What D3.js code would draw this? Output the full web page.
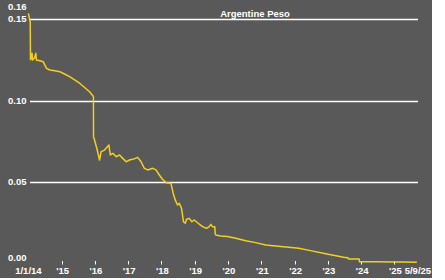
<!DOCTYPE html>
<html><head><meta charset="utf-8">
<script src="https://cdn.jsdelivr.net/npm/d3@7"></script>
<style>html,body{margin:0;padding:0;background:#fff;}svg{display:block;}</style>
</head><body>
<script>
const title = "Argentine Peso";
const dates = ["2014-01-01","2014-01-21","2014-01-24","2014-02-05","2014-02-10","2014-02-15","2014-03-10","2014-03-24","2014-03-30","2014-05-06","2014-06-12","2014-07-19","2014-08-24","2014-10-18","2014-12-12","2015-01-16","2015-03-30","2015-07-17","2015-11-03","2015-12-16",
"2015-12-17","2015-12-28","2016-01-22","2016-02-21","2016-03-10","2016-04-16","2016-06-03","2016-06-18","2016-07-16","2016-08-22","2016-09-27","2016-11-02","2016-12-09","2017-01-14","2017-02-19","2017-04-15","2017-05-22","2017-06-27","2017-08-03","2017-09-27","2017-11-02","2017-12-08",
"2018-01-14","2018-02-20","2018-04-15","2018-05-10","2018-06-01","2018-06-26","2018-07-15","2018-08-09","2018-08-31","2018-09-19","2018-10-03","2018-11-01","2018-12-01","2018-12-26","2019-02-01","2019-03-28","2019-05-10","2019-06-09","2019-06-27","2019-07-14","2019-08-09","2019-08-13","2019-08-20","2019-10-13","2019-12-25",
"2020-03-27","2020-07-14","2020-10-31","2021-02-18","2021-06-07","2021-10-30","2022-02-17","2022-06-24","2022-12-22","2023-06-23","2023-08-11","2023-08-16","2023-11-14","2023-12-12","2023-12-14","2024-06-15","2024-12-15","2025-04-15","2025-09-05"];
const values = [0.1535,0.1480,0.1250,0.1270,0.1290,0.1248,0.1262,0.1290,0.1248,0.1244,0.1238,0.1197,0.1187,0.1183,0.1177,0.1167,0.1146,0.1106,0.1054,0.1025,
0.0778,0.0758,0.0707,0.0635,0.0686,0.0696,0.0727,0.0666,0.0676,0.0655,0.0666,0.0645,0.0624,0.0635,0.0639,0.0651,0.0624,0.0584,0.0574,0.0584,0.0574,0.0543,
0.0515,0.0496,0.0492,0.0430,0.0390,0.0359,0.0369,0.0339,0.0256,0.0247,0.0271,0.0277,0.0256,0.0267,0.0250,0.0226,0.0216,0.0226,0.0240,0.0226,0.0226,0.0185,0.0175,0.0169,0.0165,
0.0155,0.0140,0.0128,0.0113,0.0107,0.0099,0.0094,0.0079,0.0058,0.0038,0.0035,0.0028,0.0027,0.0027,0.0011,0.0011,0.00097,0.00087,0.00073];
const yTicks = [0.00,0.05,0.10,0.15,0.16];
const gridValues = [0.05,0.10,0.15];
const yearTicks = ["2015","2016","2017","2018","2019","2020","2021","2022","2023","2024","2025"];
const yearLabels = ["'15","'16","'17","'18","'19","'20","'21","'22","'23","'24","'25"];
const startLabel = "1/1/14", endLabel = "5/9/25";

const W = 445, H = 280;
const svg = d3.select("body").append("svg").attr("width", W).attr("height", H);
svg.append("rect").attr("x",0).attr("y",0).attr("width",432).attr("height",278).attr("fill","#595959");

const parse = d3.utcParse("%Y-%m-%d");
const data = dates.map((d,i)=>({date:parse(d), value:values[i]}));
const x = d3.scaleUtc().domain([parse("2014-01-01"), parse("2025-09-05")]).range([28.4, 416.9]);
const y = d3.scaleLinear().domain([0,0.16]).range([263.5, 2.7]);

const font = "'Liberation Sans', Arial, sans-serif";

// gridlines
svg.append("g").selectAll("line").data(gridValues).join("line")
  .attr("x1",30).attr("x2",418)
  .attr("y1",d=>Math.round(y(d))+0.5).attr("y2",d=>Math.round(y(d))+0.5)
  .attr("stroke","#fff").attr("stroke-width",1.3);

// y labels
svg.append("g").selectAll("text").data(yTicks).join("text")
  .attr("x",8).attr("y",d=>Math.max(7, Math.min(258, y(d))))
  .attr("dy","0.35em")
  .attr("fill","#fff").attr("font-family",font).attr("font-weight","bold").attr("font-size","9.5px")
  .text(d=>d3.format(".2f")(d));

// x ticks
const yt = yearTicks.map(s=>parse(s+"-01-01"));
svg.append("g").selectAll("line").data(yt).join("line")
  .attr("x1",d=>Math.round(x(d))+0.5).attr("x2",d=>Math.round(x(d))+0.5)
  .attr("y1",261).attr("y2",264.5).attr("stroke","#fff").attr("stroke-width",1);
svg.append("g").selectAll("text").data(yt).join("text")
  .attr("x",d=>x(d)+1).attr("y",273.5).attr("text-anchor","middle")
  .attr("fill","#fff").attr("font-family",font).attr("font-weight","bold").attr("font-size","9.5px")
  .text((d,i)=>yearLabels[i]);
svg.append("text").attr("x",x(parse("2014-01-01"))).attr("y",273.5).attr("text-anchor","middle")
  .attr("fill","#fff").attr("font-family",font).attr("font-weight","bold").attr("font-size","9.5px").text(startLabel);
svg.append("text").attr("x",x(parse("2025-09-05"))+1).attr("y",273.5).attr("text-anchor","middle")
  .attr("fill","#fff").attr("font-family",font).attr("font-weight","bold").attr("font-size","9.5px").text(endLabel);

// title
svg.append("text").attr("x",255).attr("y",16.5).attr("text-anchor","middle")
  .attr("fill","#fff").attr("font-family",font).attr("font-weight","bold").attr("font-size","9.5px").text(title);

// line
const line = d3.line().x(d=>x(d.date)).y(d=>y(d.value));
svg.append("path").datum(data).attr("d",line).attr("fill","none")
  .attr("stroke","#f4cf1d").attr("stroke-width",1.5).attr("stroke-linejoin","round");
</script>
</body></html>
